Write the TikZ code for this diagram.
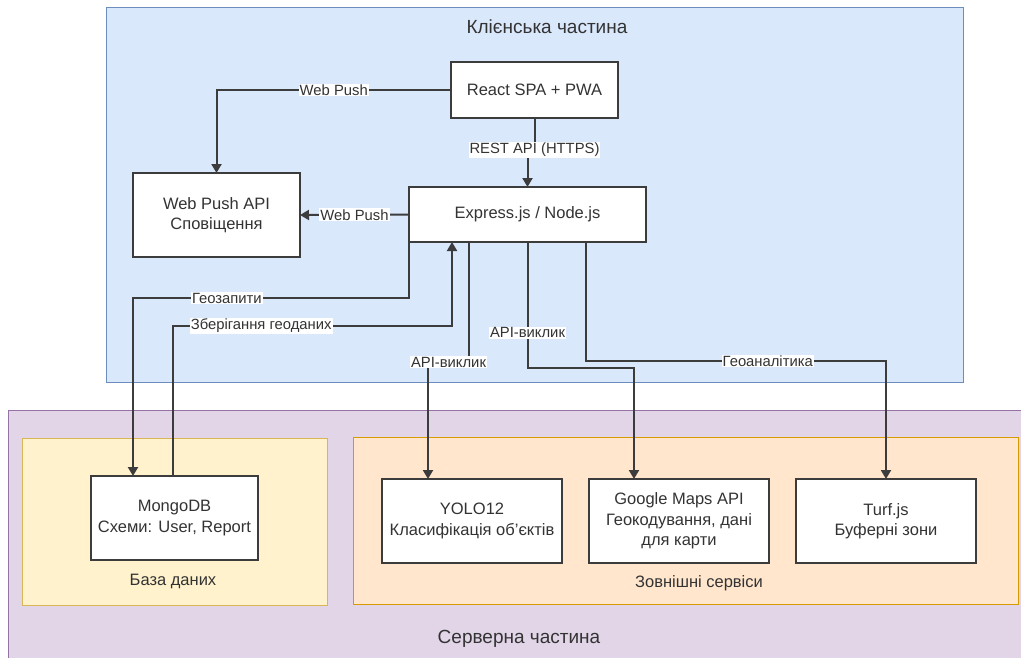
\documentclass[tikz,border=0pt]{standalone}
\usepackage{fontspec}
\setmainfont{Liberation Sans}
\usepackage{tikz}
\usetikzlibrary{positioning, arrows.meta}
\definecolor{inkColor}{RGB}{51, 51, 51}
\definecolor{edgeColor}{RGB}{60, 60, 60}
\definecolor{clientFill}{HTML}{DAE8FC}
\definecolor{clientLine}{HTML}{6C8EBF}
\definecolor{serverFill}{HTML}{E1D5E7}
\definecolor{serverLine}{HTML}{9673A6}
\definecolor{dbFill}{HTML}{FFF2CC}
\definecolor{dbLine}{HTML}{D6B656}
\definecolor{extFill}{HTML}{FFE6CC}
\definecolor{extLine}{HTML}{D79B00}
\tikzset{
    zone_box/.style={
        line width=1pt,
        inner sep=0pt,
        outer sep=0pt
    },
    zone_client/.style={zone_box, draw=clientLine, fill=clientFill},
    zone_server/.style={zone_box, draw=serverLine, fill=serverFill},
    zone_db/.style={zone_box, draw=dbLine, fill=dbFill},
    zone_ext/.style={zone_box, draw=extLine, fill=extFill},
    zone_title/.style={
        text=inkColor,
        font=\fontsize{19}{22}\selectfont
    },
    zone_caption/.style={
        text=inkColor,
        font=\fontsize{16.5}{20}\selectfont
    },
    svc_box/.style={
        draw=edgeColor,
        line width=1.8pt,
        fill=white,
        text=inkColor,
        align=center,
        inner sep=0pt,
        outer sep=0pt,
        font=\fontsize{16.5}{20.5}\selectfont
    },
    link_edge/.style={
        -{Triangle[length=9pt, width=10pt]},
        draw=edgeColor,
        line width=2pt
    },
    link_label/.style={
        fill=white,
        text=inkColor,
        inner sep=1pt,
        font=\fontsize{14.8}{17}\selectfont
    }
}

\begin{document}
\begin{tikzpicture}[x=1pt, y=-1pt]
    \useasboundingbox (0,0) rectangle (1021,657);

    % zones
    \node[zone_client, minimum width=857pt, minimum height=375pt] (clientZone) at (534.5,194.5) {};
    \node[zone_server, minimum width=1040pt, minimum height=280pt] (serverZone) at (528,550) {};
    \node[zone_db, minimum width=305pt, minimum height=167pt] (dbZone) at (174.5,521.5) {};
    \node[zone_ext, minimum width=665pt, minimum height=167pt] (extZone) at (685.5,520.5) {};

    \node[zone_title] (clientTitle) at (547,27) {Клієнська частина};
    \node[zone_title] (serverTitle) at (519,639) {Серверна частина};
    \node[zone_caption] (dbTitle) at (173,581) {База даних};
    \node[zone_caption] (extTitle) at (699,583) {Зовнішні сервіси};

    % services
    \node[svc_box, minimum width=167pt, minimum height=56pt] (react) at (534.5,90) {React SPA + PWA};
    \node[svc_box, minimum width=237pt, minimum height=55pt] (express) at (527.5,214.5) {Express.js / Node.js};
    \node[svc_box, minimum width=167pt, minimum height=84pt] (webPush) at (216.5,215) {Web Push API\\Сповіщення};
    \node[svc_box, minimum width=167pt, minimum height=84pt] (mongo) at (174.5,518) {MongoDB\\Схеми: User, Report};
    \node[svc_box, minimum width=180pt, minimum height=84pt] (yolo) at (472,521) {YOLO12\\Класифікація об'єктів};
    \node[svc_box, minimum width=180pt, minimum height=84pt, right=27pt of yolo] (gmaps) {Google Maps API\\Геокодування, дані\\для карти};
    \node[svc_box, minimum width=180pt, minimum height=84pt, right=27pt of gmaps] (turf) {Turf.js\\Буферні зони};

    % links
    \draw[link_edge] (react.west) -| node[link_label, pos=0.25] {Web Push} (webPush.north);
    \draw[link_edge] (react.south) -- ++(0,32) node[link_label] {REST API (HTTPS)} -| (express.north);
    \draw[link_edge] (express.west) -- node[link_label] {Web Push} (webPush.east);
    \draw[link_edge] (express.south west) -- ++(0,56)
        -| node[link_label, pos=0.33] {Геозапити} ([xshift=-41.5pt]mongo.north);
    \draw[link_edge] ([xshift=-1.5pt]mongo.north) -- ++(0,-150)
        -| node[link_label, pos=0.158] {Зберігання геоданих} ([xshift=-75.5pt]express.south);
    \draw[link_edge] ([xshift=-58.5pt]express.south) -- ++(0,120)
        -| node[link_label, pos=0.25] {API-виклик} ([xshift=-44pt]yolo.north);
    \draw[link_edge] (express.south) -- node[link_label, pos=0.72] {API-виклик} ++(0,126)
        -| ([xshift=-45pt]gmaps.north);
    \draw[link_edge] ([xshift=58.5pt]express.south) -- ++(0,119)
        -| node[link_label, pos=0.303] {Геоаналітика} (turf.north);
\end{tikzpicture}
\end{document}
